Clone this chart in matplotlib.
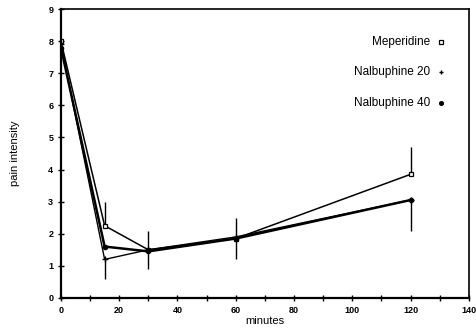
import matplotlib
matplotlib.use("Agg")
import matplotlib.pyplot as plt
import numpy as np

minutes = [0, 15, 30, 60, 120]
meperidine = [8.0, 2.25, 1.5, 1.85, 3.85]
nalb20 = [7.9, 1.2, 1.5, 1.9, 3.05]
nalb40 = [7.8, 1.6, 1.45, 1.85, 3.05]

# error bars (lower, upper)
mep_err_lo = [0, 0, 0.6, 0.65, 0]
mep_err_hi = [0, 0.75, 0.6, 0.65, 0.85]
n20_err_lo = [0, 0.6, 0, 0, 0]
n20_err_hi = [0, 0, 0, 0, 0]
n40_err_lo = [0, 0, 0, 0, 0.95]
n40_err_hi = [0, 0, 0, 0, 0]

xticks = [0, 20, 40, 60, 80, 100, 120, 140]
yticks = list(range(0, 10))
labels = ["Meperidine", "Nalbuphine 20", "Nalbuphine 40"]

plt.rcParams['font.family'] = ['Liberation Sans', 'DejaVu Sans']
fig = plt.figure(figsize=(4.76, 3.34), dpi=100)
ax = fig.add_axes([0.128, 0.108, 0.857, 0.865])

ax.errorbar(minutes, meperidine, yerr=[mep_err_lo, mep_err_hi], color='black', lw=1.1,
            marker='s', ms=3.2, mfc='white', mec='black', mew=0.9, ecolor='black', elinewidth=1.0, capsize=0)
ax.errorbar(minutes, nalb20, yerr=[n20_err_lo, n20_err_hi], color='black', lw=1.0,
            marker='+', ms=4, mew=1.0, ecolor='black', elinewidth=1.0, capsize=0)
ax.errorbar(minutes, nalb40, yerr=[n40_err_lo, n40_err_hi], color='black', lw=1.8,
            marker='o', ms=3, mfc='black', mec='black', ecolor='black', elinewidth=1.0, capsize=0)

ax.set_xlim(0, 140)
ax.set_ylim(0, 9)
ax.set_xticks(xticks)
ax.set_xticks(range(10, 140, 20), minor=True)
ax.set_yticks(yticks)
ax.tick_params(axis='both', which='both', direction='inout', length=4, width=1.0,
               labelsize=6.5)
for lab in ax.get_xticklabels() + ax.get_yticklabels():
    lab.set_fontweight('bold')
for s in ax.spines.values():
    s.set_linewidth(1.2)
ax.spines['left'].set_linewidth(1.6)
ax.spines['bottom'].set_linewidth(1.6)

ax.set_xlabel("minutes", fontsize=8, labelpad=1)
ax.set_ylabel("pain intensity", fontsize=8, labelpad=20)

# legend: text right-aligned with marker to the right
leg_y = [7.97, 7.03, 6.07]
styles = [dict(marker='s', ms=3, mfc='white', mec='black', mew=0.9),
          dict(marker='+', ms=3.5, mec='black', mew=1.0),
          dict(marker='o', ms=2.6, mfc='black', mec='black')]
for lbl, yy, st in zip(labels, leg_y, styles):
    ax.text(126.6, yy, lbl, ha='right', va='center', fontsize=8.5)
    ax.plot([130.4], [yy], color='black', linestyle='none', **st)

fig.savefig("out.png", dpi=100)
